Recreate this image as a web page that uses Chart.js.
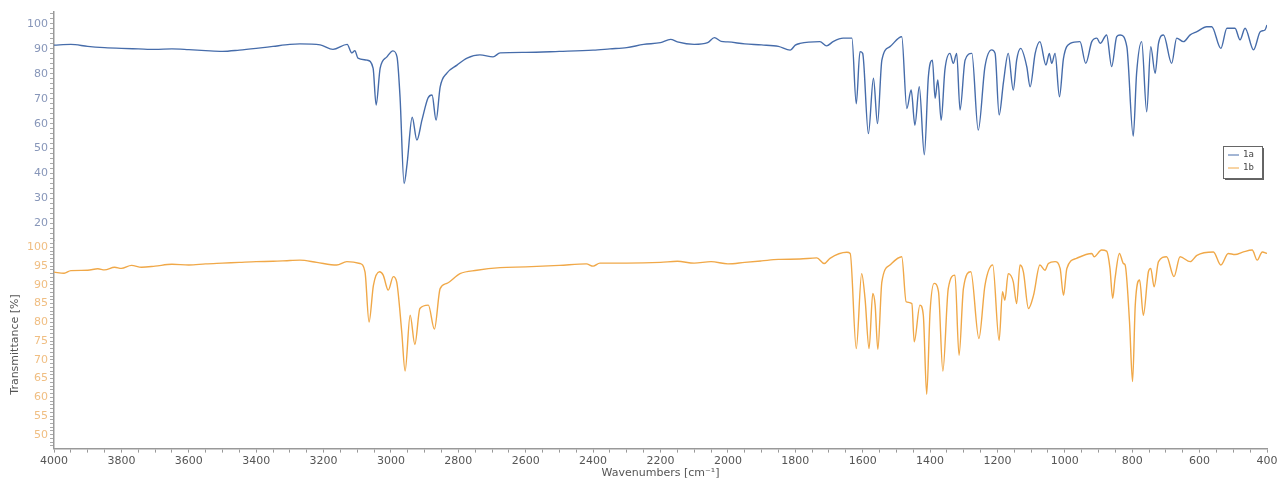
<!DOCTYPE html>
<html>
<head>
<meta charset="utf-8">
<script src="https://cdn.jsdelivr.net/npm/chart.js@4"></script>
<style>
  html, body { margin: 0; padding: 0; background: #fff; }
  #wrap { width: 1277px; height: 480px; position: relative; }
</style>
</head>
<body>
<div id="wrap"><canvas id="irChart"></canvas></div>
<script>
// Spektrum 1a (blå, övre axeln) – vågtal och transmittans
const wavenumbers1a = [4000, 3950, 3900, 3850, 3800, 3750, 3700, 3650, 3600, 3550, 3500, 3450, 3400, 3350, 3300, 3270, 3210, 3172, 3130, 3116, 3107, 3098, 3071, 3053, 3044, 3032, 3012, 2994, 2982, 2973, 2961, 2952, 2937, 2923, 2908, 2890, 2878, 2866, 2854, 2834, 2804, 2774, 2736, 2697, 2676, 2600, 2500, 2400, 2350, 2300, 2250, 2200, 2170, 2150, 2100, 2060, 2040, 2020, 2000, 1950, 1900, 1850, 1815, 1800, 1786, 1727, 1707, 1688, 1658, 1632, 1619, 1608, 1600, 1583, 1568, 1556, 1543, 1519, 1484, 1469, 1456, 1445, 1432, 1417, 1405, 1393, 1385, 1377, 1367, 1356, 1341, 1331, 1321, 1311, 1296, 1276, 1257, 1237, 1217, 1207, 1195, 1182, 1168, 1153, 1143, 1131, 1113, 1103, 1088, 1074, 1056, 1046, 1039, 1029, 1016, 1004, 984, 955, 938, 920, 905, 895, 876, 861, 846, 836, 816, 797, 787, 772, 757, 745, 732, 722, 707, 683, 668, 648, 628, 608, 579, 564, 537, 519, 495, 480, 465, 440, 420, 406, 400];
const transmittance1a = [91.5, 91.8, 91.0, 90.5, 90.2, 90.0, 89.8, 90.0, 89.7, 89.3, 89.0, 89.5, 90.2, 91.0, 91.8, 92.0, 91.6, 89.8, 91.8, 88.4, 89.3, 86.3, 85.5, 82.3, 67.5, 82.3, 86.8, 89.2, 86.8, 70.7, 36.0, 44.0, 62.6, 53.4, 61.4, 70.3, 71.5, 61.4, 74.7, 80.3, 83.5, 86.3, 87.6, 86.8, 88.4, 88.6, 89.0, 89.5, 90.0, 90.5, 91.8, 92.5, 93.8, 92.8, 91.8, 92.5, 94.5, 93.0, 92.8, 92.0, 91.6, 91.0, 89.5, 91.5, 92.2, 92.9, 91.2, 92.9, 94.3, 94.3, 68.0, 88.9, 88.2, 56.0, 78.2, 60.0, 85.5, 90.9, 94.9, 66.1, 73.5, 59.4, 74.8, 47.5, 78.8, 85.5, 70.2, 77.5, 61.4, 81.5, 88.2, 84.2, 88.2, 65.5, 85.5, 88.2, 57.4, 82.9, 89.6, 88.2, 63.5, 76.8, 88.2, 73.5, 85.5, 90.2, 82.9, 74.8, 88.2, 92.9, 83.5, 88.2, 84.2, 88.2, 70.8, 86.2, 92.2, 92.9, 84.2, 92.9, 94.3, 92.2, 95.6, 82.9, 94.9, 95.6, 90.9, 55.0, 80.2, 92.9, 64.8, 90.9, 80.2, 92.2, 95.6, 84.2, 94.3, 92.9, 95.6, 96.9, 98.9, 98.9, 90.2, 98.3, 98.3, 93.6, 98.3, 89.6, 96.9, 97.6, 99.6];

// Spektrum 1b (orange, nedre axeln)
const wavenumbers1b = [4000, 3970, 3950, 3900, 3870, 3850, 3820, 3800, 3770, 3740, 3700, 3650, 3600, 3550, 3500, 3450, 3400, 3350, 3300, 3270, 3220, 3161, 3131, 3092, 3077, 3065, 3052, 3034, 3023, 3008, 2993, 2983, 2968, 2958, 2943, 2929, 2914, 2889, 2871, 2854, 2834, 2795, 2745, 2676, 2600, 2500, 2420, 2400, 2380, 2300, 2200, 2150, 2100, 2050, 2000, 1950, 1900, 1850, 1786, 1736, 1714, 1697, 1647, 1637, 1619, 1603, 1593, 1581, 1570, 1563, 1555, 1543, 1519, 1484, 1471, 1454, 1447, 1430, 1420, 1410, 1400, 1388, 1375, 1362, 1346, 1326, 1314, 1301, 1279, 1255, 1237, 1214, 1195, 1185, 1178, 1168, 1153, 1143, 1133, 1123, 1108, 1093, 1074, 1059, 1049, 1029, 1014, 1004, 994, 965, 920, 913, 891, 876, 866, 858, 851, 838, 826, 821, 808, 799, 791, 778, 767, 752, 745, 735, 722, 698, 676, 658, 628, 608, 559, 537, 515, 495, 470, 444, 429, 414, 400];
const transmittance1b = [93.4, 93.1, 93.8, 93.9, 94.3, 94.0, 94.7, 94.4, 95.2, 94.7, 95.0, 95.5, 95.3, 95.6, 95.8, 96.0, 96.2, 96.3, 96.5, 96.6, 96.0, 95.3, 96.2, 95.7, 93.5, 80.1, 89.9, 93.5, 92.6, 88.6, 92.2, 90.8, 77.5, 67.0, 81.9, 74.1, 83.7, 84.6, 78.2, 89.0, 90.4, 93.0, 93.9, 94.6, 94.8, 95.2, 95.6, 95.0, 95.8, 95.8, 96.0, 96.3, 95.8, 96.2, 95.6, 96.0, 96.4, 96.8, 96.9, 97.2, 95.7, 97.1, 98.7, 98.4, 73.0, 93.0, 86.4, 73.0, 87.7, 84.6, 72.8, 90.8, 95.3, 97.5, 85.5, 85.0, 74.8, 84.6, 81.9, 60.8, 82.8, 90.4, 88.2, 67.0, 89.0, 92.6, 71.2, 89.0, 93.5, 75.7, 89.9, 95.3, 75.2, 88.2, 85.9, 93.0, 90.8, 85.0, 95.3, 93.5, 83.7, 87.2, 95.3, 93.9, 95.7, 96.2, 94.4, 87.2, 94.4, 97.1, 98.4, 97.5, 99.3, 99.0, 94.4, 86.4, 91.7, 98.4, 95.7, 95.3, 80.1, 64.2, 84.6, 91.3, 81.9, 93.5, 94.4, 89.5, 96.2, 97.5, 92.2, 97.5, 96.2, 97.9, 98.8, 95.3, 98.4, 98.1, 98.8, 99.3, 96.6, 98.8, 98.4];

// Axlar och etiketter
const seriesLabels = ['1a', '1b'];
const xTickValues = [4000, 3800, 3600, 3400, 3200, 3000, 2800, 2600, 2400, 2200, 2000, 1800, 1600, 1400, 1200, 1000, 800, 600, 400];
const topTickValues = [20, 30, 40, 50, 60, 70, 80, 90, 100];
const bottomTickValues = [50, 55, 60, 65, 70, 75, 80, 85, 90, 95, 100];

const blue = 'rgb(70, 108, 170)';
const orange = 'rgb(240, 168, 72)';

function toPoints(xs, ys) {
    return xs.map((x, i) => ({ x: x, y: ys[i] }));
}

// Liten legend inne i ritytan, med skugga
const insideLegend = {
    id: 'insideLegend',
    afterDatasetsDraw(chart) {
        const { ctx, chartArea } = chart;
        const x = chartArea.right - 44;
        const y = chartArea.top + 134;
        const w = 39, h = 32;
        ctx.save();
        ctx.fillStyle = 'rgba(60,60,60,0.8)';
        ctx.fillRect(x + 2, y + 2, w, h);
        ctx.fillStyle = '#fff';
        ctx.fillRect(x, y, w, h);
        ctx.strokeStyle = '#666';
        ctx.lineWidth = 1;
        ctx.strokeRect(x + 0.5, y + 0.5, w, h);
        ctx.font = '9px "DejaVu Sans Mono"';
        ctx.textBaseline = 'middle';
        chart.data.datasets.forEach((ds, i) => {
            const ly = y + 9 + i * 13;
            ctx.strokeStyle = ds.borderColor;
            ctx.beginPath();
            ctx.moveTo(x + 5, ly);
            ctx.lineTo(x + 16, ly);
            ctx.stroke();
            ctx.fillStyle = '#444';
            ctx.fillText(ds.label, x + 20, ly);
        });
        ctx.restore();
    }
};

const ctx = document.getElementById('irChart').getContext('2d');
new Chart(ctx, {
    type: 'line',
    data: {
        datasets: [{
            label: seriesLabels[0],
            data: toPoints(wavenumbers1a, transmittance1a),
            yAxisID: 'yTop',
            borderColor: blue,
            borderWidth: 1.4,
            pointRadius: 0,
            cubicInterpolationMode: 'monotone'
        }, {
            label: seriesLabels[1],
            data: toPoints(wavenumbers1b, transmittance1b),
            yAxisID: 'yBottom',
            borderColor: orange,
            borderWidth: 1.4,
            pointRadius: 0,
            cubicInterpolationMode: 'monotone'
        }]
    },
    options: {
        responsive: true,
        maintainAspectRatio: false,
        animation: false,
        layout: { padding: { top: 12, right: 10, bottom: 0, left: 0 } },
        plugins: {
            legend: { display: false },
            tooltip: { enabled: false }
        },
        scales: {
            x: {
                type: 'linear',
                reverse: true,
                min: 400,
                max: 4000,
                afterBuildTicks: (scale) => {
                    const t = [];
                    for (let v = 400; v <= 4000; v += 50) t.push({ value: v });
                    scale.ticks = t;
                },
                ticks: {
                    autoSkip: false,
                    maxRotation: 0,
                    padding: 2,
                    color: '#555',
                    font: { family: 'DejaVu Sans', size: 11 },
                    callback: (v) => xTickValues.includes(v) ? String(v) : ''
                },
                grid: { drawOnChartArea: false, tickLength: 4, tickColor: '#999' },
                border: { color: '#999', width: 1.5 },
                title: {
                    display: true,
                    text: 'Wavenumbers [cm⁻¹]',
                    color: '#555',
                    padding: { top: -3, bottom: 0 },
                    font: { family: 'DejaVu Sans', size: 11 }
                }
            },
            yBottom: {
                type: 'linear',
                position: 'left',
                stack: 'ir',
                stackWeight: 208,
                min: 46.3,
                max: 101.9,
                afterBuildTicks: (scale) => {
                    const t = [];
                    for (let v = 47; v <= 101; v += 1) t.push({ value: v });
                    scale.ticks = t;
                },
                afterFit: (scale) => { scale.width = 54; },
                ticks: {
                    autoSkip: false,
                    padding: 2,
                    color: 'rgb(240, 190, 130)',
                    font: { family: 'DejaVu Sans', size: 11 },
                    callback: (v) => bottomTickValues.includes(v) ? String(v) : ''
                },
                grid: { drawOnChartArea: false, tickLength: 4, tickColor: '#aaa' },
                border: { color: '#999', width: 1.5 },
                title: {
                    display: true,
                    text: 'Transmittance [%]',
                    color: '#555',
                    padding: { top: 9, bottom: 0 },
                    font: { family: 'DejaVu Sans', size: 11 }
                }
            },
            yTop: {
                type: 'linear',
                position: 'left',
                stack: 'ir',
                stackWeight: 228,
                min: 13.2,
                max: 104.8,
                afterBuildTicks: (scale) => {
                    const t = [];
                    for (let v = 14; v <= 104; v += 2) t.push({ value: v });
                    scale.ticks = t;
                },
                afterFit: (scale) => { scale.width = 54; },
                ticks: {
                    autoSkip: false,
                    padding: 2,
                    color: 'rgb(135, 150, 185)',
                    font: { family: 'DejaVu Sans', size: 11 },
                    callback: (v) => topTickValues.includes(v) ? String(v) : ''
                },
                grid: { drawOnChartArea: false, tickLength: 4, tickColor: '#aaa' },
                border: { color: '#999', width: 1.5 }
            }
        }
    },
    plugins: [insideLegend]
});
</script>
</body>
</html>
